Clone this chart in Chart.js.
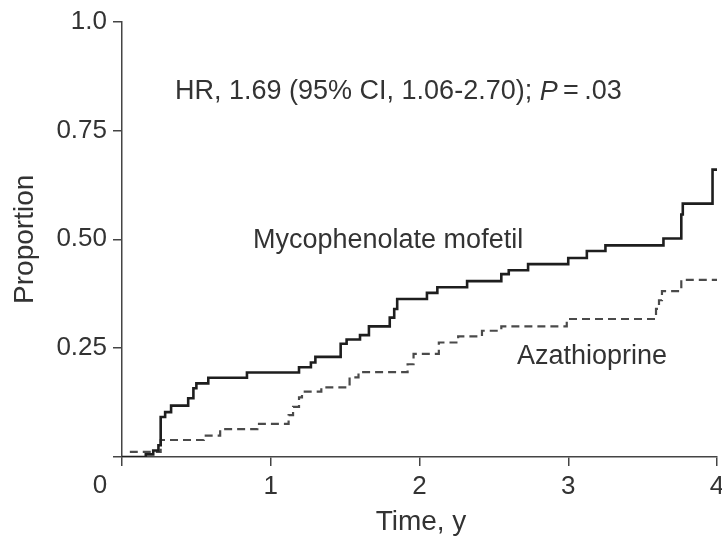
<!DOCTYPE html>
<html>
<head>
<meta charset="utf-8">
<script src="https://cdn.jsdelivr.net/npm/chart.js@4/dist/chart.umd.min.js"></script>
<style>
  html, body { margin: 0; padding: 0; background: #fff; }
  #wrap { width: 722px; height: 543px; }
</style>
</head>
<body>
<div id="wrap"><canvas id="km-chart"></canvas></div>
<script>
// Cumulative proportion (time in years)
const mmfTime = [0, 0.16, 0.21, 0.245, 0.26, 0.29, 0.33, 0.445, 0.48, 0.50, 0.58, 0.84, 1.19, 1.27, 1.30, 1.47, 1.51, 1.60, 1.66, 1.80, 1.83, 1.85, 2.05, 2.12, 2.32, 2.55, 2.60, 2.73, 3.00, 3.125, 3.25, 3.64, 3.76, 3.77, 3.97, 4.0];
const mmfProp = [0, 0.006, 0.015, 0.027, 0.092, 0.103, 0.118, 0.135, 0.158, 0.169, 0.182, 0.194, 0.206, 0.217, 0.23, 0.26, 0.27, 0.28, 0.30, 0.32, 0.34, 0.363, 0.377, 0.39, 0.404, 0.42, 0.429, 0.443, 0.457, 0.473, 0.486, 0.502, 0.557, 0.582, 0.66, 0.66];

const azaTime = [0, 0.06, 0.26, 0.55, 0.66, 0.91, 1.12, 1.15, 1.19, 1.21, 1.34, 1.53, 1.59, 1.92, 1.96, 2.13, 2.26, 2.42, 2.55, 2.99, 3.59, 3.61, 3.63, 3.76, 4.0];
const azaProp = [0, 0.012, 0.039, 0.049, 0.064, 0.076, 0.096, 0.115, 0.137, 0.15, 0.16, 0.183, 0.195, 0.213, 0.237, 0.263, 0.277, 0.29, 0.30, 0.317, 0.34, 0.36, 0.381, 0.407, 0.407];

const xTicks = [0, 1, 2, 3, 4];
const yTicks = [0, 0.25, 0.5, 0.75, 1.0];
const yTickLabels = ['', '0.25', '0.50', '0.75', '1.0'];

const textColor = '#333';
const fontFamily = '"Liberation Sans", Arial, sans-serif';

// pair up time/proportion arrays into {x, y} points
function toPoints(times, props) {
    return times.map((t, i) => ({ x: t, y: props[i] }));
}

// Draws the free text: HR line, curve labels, axis titles and the lone "0"
const annotations = {
    id: 'annotations',
    afterDraw(chart) {
        const ctx = chart.ctx;
        const xs = chart.scales.x;
        const ys = chart.scales.y;
        ctx.save();
        ctx.fillStyle = textColor;
        ctx.textBaseline = 'middle';

        // HR line with italic P
        const parts = [
            ['normal', 'HR, 1.69 (95% CI, 1.06-2.70); '],
            ['italic', 'P'],
            ['normal', '\u2009=\u2009.03']
        ];
        let x = 175;
        ctx.textAlign = 'left';
        parts.forEach(p => {
            ctx.font = p[0] + ' 27px ' + fontFamily;
            ctx.fillText(p[1], x, 92);
            x += ctx.measureText(p[1]).width;
        });

        ctx.font = '27px ' + fontFamily;
        ctx.fillText('Mycophenolate mofetil', 253, 241);
        ctx.fillText('Azathioprine', 517, 357);

        // x axis "0" sits left of the y axis
        ctx.font = '26px ' + fontFamily;
        ctx.textAlign = 'center';
        ctx.fillText('0', xs.getPixelForValue(0) - 22, 486);

        // axis titles
        ctx.font = '28px ' + fontFamily;
        ctx.fillText('Time, y', 421, 522);
        ctx.translate(25, (ys.top + ys.bottom) / 2);
        ctx.rotate(-Math.PI / 2);
        ctx.fillText('Proportion', 0, 0);
        ctx.restore();
    }
};

new Chart(document.getElementById('km-chart').getContext('2d'), {
    type: 'line',
    data: {
        datasets: [
            {
                label: 'Mycophenolate mofetil',
                data: toPoints(mmfTime, mmfProp),
                stepped: 'before',
                borderColor: '#1e1e1e',
                borderWidth: 2.6,
                pointRadius: 0,
                fill: false
            },
            {
                label: 'Azathioprine',
                data: toPoints(azaTime, azaProp),
                stepped: 'before',
                borderColor: '#4a4a4a',
                borderWidth: 2.2,
                borderDash: [8, 5],
                pointRadius: 0,
                fill: false
            }
        ]
    },
    options: {
        responsive: true,
        maintainAspectRatio: false,
        animation: false,
        layout: { padding: { top: 20, right: 0, left: 0, bottom: 0 } },
        plugins: {
            legend: { display: false },
            tooltip: { enabled: false }
        },
        scales: {
            x: {
                type: 'linear',
                min: 0,
                max: 4,
                afterBuildTicks: scale => { scale.ticks = xTicks.map(v => ({ value: v })); },
                afterFit: scale => { scale.height = 86; scale.paddingRight = 5; },
                ticks: {
                    color: textColor,
                    font: { family: fontFamily, size: 26 },
                    padding: 5,
                    maxRotation: 0,
                    callback: v => (v === 0 ? '' : String(v))
                },
                grid: { drawOnChartArea: false, drawTicks: true, tickLength: 9, color: '#444', lineWidth: 1.5 },
                border: { display: true, color: '#444', width: 1.5 }
            },
            y: {
                type: 'linear',
                min: 0,
                max: 1,
                afterBuildTicks: scale => { scale.ticks = yTicks.map(v => ({ value: v })); },
                afterFit: scale => { scale.width = 122; },
                ticks: {
                    color: textColor,
                    font: { family: fontFamily, size: 26 },
                    padding: 6,
                    callback: v => yTickLabels[yTicks.indexOf(v)]
                },
                grid: { drawOnChartArea: false, drawTicks: true, tickLength: 9, color: '#444', lineWidth: 1.5 },
                border: { display: true, color: '#444', width: 1.5 }
            }
        }
    },
    plugins: [annotations]
});
</script>
</body>
</html>
